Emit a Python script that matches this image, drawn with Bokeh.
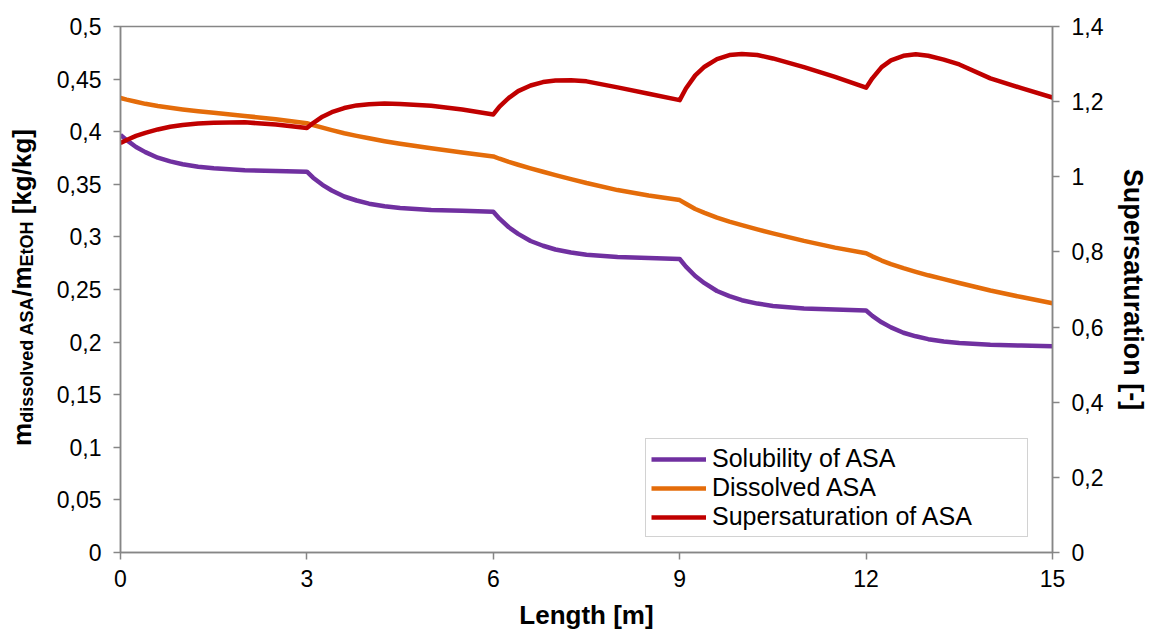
import math
from bokeh.plotting import figure
from bokeh.layouts import row
from bokeh.models import Range1d, LinearAxis, FixedTicker, Label, Legend, LegendItem
from bokeh.embed import file_html
from bokeh.resources import INLINE

# ---- data ----
length_m = [0, 0.1, 0.25, 0.4, 0.6, 0.8, 1, 1.25, 1.5, 2, 2.5,
            3, 3.1, 3.25, 3.4, 3.6, 3.8, 4, 4.25, 4.5, 5, 5.5,
            6, 6.1, 6.25, 6.4, 6.6, 6.8, 7, 7.25, 7.5, 8, 8.5,
            9, 9.1, 9.25, 9.4, 9.6, 9.8, 10, 10.25, 10.5, 11, 11.5,
            12, 12.1, 12.25, 12.4, 12.6, 12.8, 13, 13.25, 13.5, 14, 14.5,
            15]

solubility = [0.397, 0.392, 0.3855, 0.3806, 0.3753, 0.3718, 0.369, 0.3667, 0.3652, 0.3634, 0.3627,
              0.362, 0.3563, 0.3495, 0.3441, 0.3384, 0.3346, 0.3316, 0.3291, 0.3274, 0.3255, 0.3248,
              0.324, 0.3173, 0.3092, 0.3029, 0.2961, 0.2916, 0.288, 0.2851, 0.2831, 0.2808, 0.2799,
              0.279, 0.2717, 0.2628, 0.256, 0.2486, 0.2437, 0.2398, 0.2366, 0.2344, 0.232, 0.231,
              0.230, 0.2249, 0.2188, 0.214, 0.2089, 0.2055, 0.2028, 0.2006, 0.1991, 0.1974, 0.1967,
              0.196]

dissolved = [0.432, 0.4305, 0.4285, 0.4265, 0.4245, 0.4228, 0.4212, 0.4195, 0.418, 0.415, 0.4118,
             0.408, 0.4063, 0.4038, 0.4015, 0.3985, 0.396, 0.3937, 0.391, 0.3886, 0.3843, 0.3803,
             0.3765, 0.3743, 0.3713, 0.3686, 0.3652, 0.3619, 0.3587, 0.3549, 0.3512, 0.3445, 0.3393,
             0.335, 0.3315, 0.3265, 0.3228, 0.3183, 0.3146, 0.3112, 0.3071, 0.3033, 0.2962, 0.2898,
             0.2845, 0.2815, 0.2775, 0.2741, 0.2703, 0.2668, 0.2635, 0.2598, 0.2562, 0.249, 0.2428,
             0.237]

supersaturation = [1.090, 1.098, 1.109, 1.117, 1.126, 1.133, 1.138, 1.142, 1.144, 1.145, 1.139,
                   1.130, 1.143, 1.160, 1.172, 1.183, 1.190, 1.193, 1.195, 1.194, 1.189, 1.179,
                   1.166, 1.187, 1.210, 1.228, 1.243, 1.252, 1.256, 1.257, 1.254, 1.238, 1.221,
                   1.204, 1.235, 1.270, 1.293, 1.313, 1.324, 1.327, 1.324, 1.315, 1.292, 1.266,
                   1.237, 1.262, 1.292, 1.310, 1.322, 1.326, 1.322, 1.312, 1.299, 1.262, 1.236,
                   1.211]

series_names = ["Solubility of ASA", "Dissolved ASA", "Supersaturation of ASA"]

x_ticks = [0, 3, 6, 9, 12, 15]
left_ticks = [0, 0.05, 0.1, 0.15, 0.2, 0.25, 0.3, 0.35, 0.4, 0.45, 0.5]
left_tick_labels = ["0", "0,05", "0,1", "0,15", "0,2", "0,25", "0,3", "0,35", "0,4", "0,45", "0,5"]
right_ticks = [0, 0.2, 0.4, 0.6, 0.8, 1, 1.2, 1.4]
right_tick_labels = ["0", "0,2", "0,4", "0,6", "0,8", "1", "1,2", "1,4"]

# left axis title pieces: (text, is_subscript)
left_title_pieces = [("m", False), ("dissolved ASA", True), ("/m", False),
                     ("EtOH", True), ("\u00a0[kg/kg]", False)]

# ---- styling ----
FONT = "Liberation Sans"
AXIS_GRAY = "#868686"
PURPLE = "#7030A0"
ORANGE = "#E46C0A"
RED = "#C00000"
TICK_FS = "23px"
W_LEFT = 50            # width of the strip that carries the left axis title
TOTAL_W, TOTAL_H = 1151, 637
B_TOP, B_BOTTOM = 26, 85

p = figure(width=TOTAL_W - W_LEFT, height=TOTAL_H, output_backend="svg", toolbar_location=None,
           x_range=Range1d(0, 15), y_range=Range1d(0, 0.5),
           min_border_left=120 - W_LEFT, min_border_right=99,
           min_border_top=B_TOP, min_border_bottom=B_BOTTOM)
p.extra_y_ranges = {"right": Range1d(0, 1.4)}

p.xgrid.visible = False
p.ygrid.visible = False
p.outline_line_color = AXIS_GRAY
p.outline_line_width = 1.5
p.background_fill_color = "white"
p.border_fill_color = "white"

def style_axis(ax, title_fs="27px"):
    ax.axis_line_color = AXIS_GRAY
    ax.axis_line_width = 1.5
    ax.major_tick_line_color = AXIS_GRAY
    ax.major_tick_line_width = 1.5
    ax.minor_tick_line_color = None
    ax.major_tick_in = 0
    ax.major_tick_out = 7
    ax.major_label_text_font = FONT
    ax.major_label_text_font_size = TICK_FS
    ax.major_label_text_color = "black"
    ax.axis_label_text_font = FONT
    ax.axis_label_text_font_size = title_fs
    ax.axis_label_text_font_style = "bold"
    ax.axis_label_text_color = "black"

xa = p.xaxis[0]
style_axis(xa, "26px")
xa.ticker = FixedTicker(ticks=x_ticks)
xa.axis_label = "Length [m]"
xa.major_label_standoff = 10
xa.axis_label_standoff = 10

ya = p.yaxis[0]
style_axis(ya)
ya.ticker = FixedTicker(ticks=left_ticks)
ya.major_label_overrides = dict(zip(left_ticks, left_tick_labels))
ya.major_label_standoff = 12

ra = LinearAxis(y_range_name="right")
style_axis(ra, "27px")
ra.ticker = FixedTicker(ticks=right_ticks)
ra.major_label_overrides = dict(zip(right_ticks, right_tick_labels))
ra.axis_label = "Supersaturation [-]"
ra.major_label_standoff = 12
ra.axis_label_standoff = 12
p.add_layout(ra, "right")

r1 = p.line(length_m, solubility, line_color=PURPLE, line_width=4.5, line_join="round")
r2 = p.line(length_m, dissolved, line_color=ORANGE, line_width=4.5, line_join="round")
r3 = p.line(length_m, supersaturation, line_color=RED, line_width=4.5, line_join="round",
            y_range_name="right")

legend = Legend(items=[LegendItem(label=series_names[0], renderers=[r1]),
                       LegendItem(label=series_names[1], renderers=[r2]),
                       LegendItem(label=series_names[2], renderers=[r3])],
                location=(645 - 120, 15))
legend.label_text_font = FONT
legend.label_text_font_size = "25px"
legend.label_text_color = "black"
legend.border_line_color = "#A6A6A6"
legend.border_line_width = 1.5
legend.background_fill_alpha = 1
legend.glyph_width = 55
legend.glyph_height = 28
legend.label_height = 28
legend.label_width = 310
legend.label_standoff = 6
legend.spacing = 0
legend.padding = 5
legend.margin = 0
p.add_layout(legend, "center")

# ---- left strip with the rotated axis title (with subscripts) ----
frame_h = TOTAL_H - B_TOP - B_BOTTOM
pl = figure(width=W_LEFT, height=TOTAL_H, output_backend="svg", toolbar_location=None,
            x_range=Range1d(0, W_LEFT), y_range=Range1d(0, frame_h),
            x_axis_type=None, y_axis_type=None,
            min_border_left=0, min_border_right=0,
            min_border_top=B_TOP, min_border_bottom=B_BOTTOM)
pl.outline_line_color = None
pl.background_fill_color = "white"
pl.border_fill_color = "white"

MAIN_FS, SUB_FS = 26, 18
em_widths = {"m": 0.889, "dissolved ASA": 7.0, "/m": 1.167, "EtOH": 2.5, "\u00a0[kg/kg]": 3.556}
total = sum((SUB_FS if sub else MAIN_FS) * em_widths[t] for t, sub in left_title_pieces)
center_y = 287
start = center_y + total / 2.0          # canvas y of the bottom of the text
for txt, sub in left_title_pieces:
    fs = SUB_FS if sub else MAIN_FS
    base_x = 26 if sub else 21
    pl.add_layout(Label(x=base_x, y=(TOTAL_H - B_BOTTOM) - start, text=txt, angle=math.pi / 2,
                        text_font=FONT, text_font_size=f"{fs}px", text_font_style="bold",
                        text_color="black", text_align="left", text_baseline="alphabetic"))
    start -= fs * em_widths[txt]

layout = row(pl, p, spacing=0)
open("out.html", "w").write(file_html(layout, INLINE))
